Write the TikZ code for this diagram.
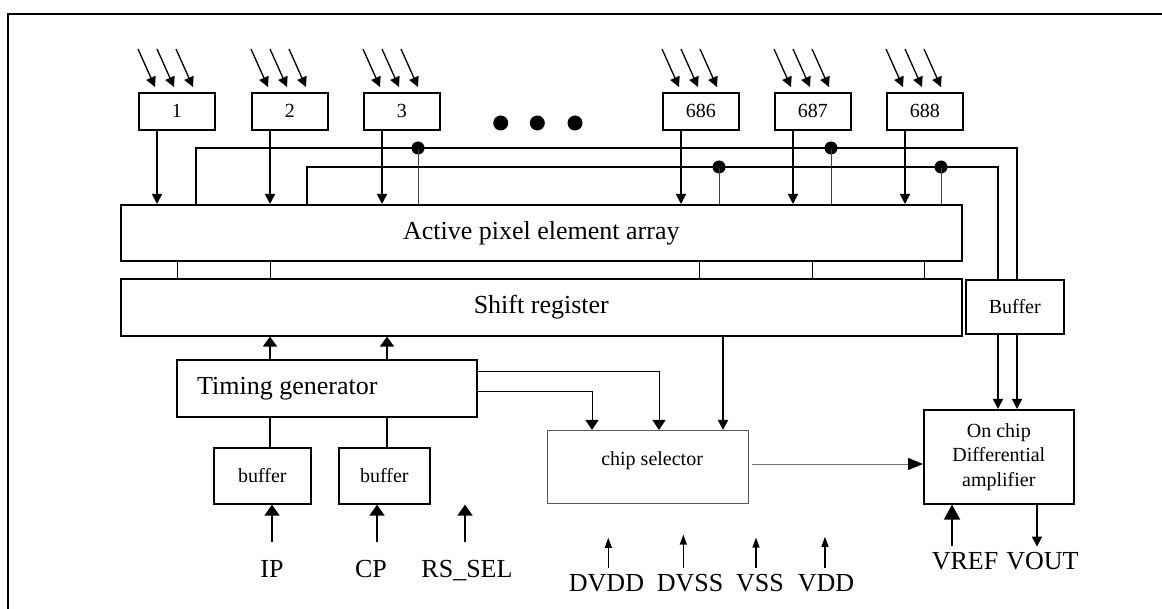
\documentclass[tikz,border=0pt]{standalone}
\usepackage{fontspec}
\setmainfont{Liberation Serif}
\usetikzlibrary{arrows.meta}
\tikzset{
  txtbig/.style={font=\fontsize{26}{30}\selectfont},
  txtsmall/.style={font=\fontsize{20}{24.5}\selectfont},
  blk/.style={draw, line width=1.6pt, inner sep=0pt, anchor=north west},
  lab/.style={inner sep=0pt, txtbig},
  ray/.style={line width=1.3pt, -{Triangle[length=10pt,width=10pt]}},
  feed/.style={line width=1.6pt, -{Triangle[length=10pt,width=10pt]}},
  uparr/.style={line width=1.6pt, -{Triangle[length=10pt,width=14pt]}},
  inp/.style={line width=1.6pt, -{Triangle[length=11pt,width=15pt]}},
  vrarr/.style={line width=1.6pt, -{Triangle[length=15pt,width=16pt]}},
  pwr/.style={line width=1.2pt, -{Triangle[length=10pt,width=7pt]}},
  tcarr/.style={line width=1pt, -{Triangle[length=10pt,width=13pt]}},
  selout/.style={draw=black!55, line width=1pt, -{Triangle[length=15pt,width=12pt,color=black]}},
  wthin/.style={line width=1.1pt},
  wthick/.style={line width=1.8pt},
  stem/.style={draw=black!75, line width=0.9pt},
  link/.style={line width=0.9pt},
  jn/.style={circle, fill, inner sep=0pt, minimum size=13pt},
  ell/.style={circle, fill, inner sep=0pt, minimum size=15pt}
}
\begin{document}
\begin{tikzpicture}[x=1pt,y=-1pt]
\useasboundingbox (0,0) rectangle (1162,609);
% outer frame
\draw[line width=1.4pt] (8,620) -- (8,14) -- (1175,14);

% photodiode cells with incoming light
\foreach \n/\x in {1/138,2/251,3/363,686/662,687/774,688/886}{
  \node[blk, txtsmall, minimum width=76pt, minimum height=37pt] (p\n) at (\x,92) {\n};
  \foreach \d in {0,19,38}
    \draw[ray] ([xshift=\d pt,yshift=43pt]p\n.north west) -- ++(17,38);
}
\foreach \i/\x in {1/500.7,2/537.3,3/575}
  \node[ell] (dot\i) at (\x,123) {};

% pixel array and shift register
\node[blk, txtbig, minimum width=841pt, minimum height=56pt] (pa) at (120,204) {Active pixel element array};
\node[blk, txtbig, minimum width=841pt, minimum height=57pt] (sr) at (120,278) {Shift register};
\foreach \x in {177,270,699,812,924}
  \draw[link] (\x,0 |- pa.south) -- (\x,0 |- sr.north);

\foreach \n in {1,2,3,686,687,688}{
  \coordinate (o\n) at ([xshift=19pt]p\n.south west);
  \draw[feed] (o\n) -- (o\n |- pa.north);
}

% output buffer and bus lines
\node[blk, txtsmall, minimum width=98pt, minimum height=54pt] (bf) at (965,279) {Buffer};
\coordinate (a1) at (196,148); \coordinate (a2) at (1017,148);
\coordinate (b1) at (307,167); \coordinate (b2) at (998,167);
\foreach \x in {418,831}{
  \node[jn] (ja\x) at (\x,148) {};
  \draw[stem] (ja\x.center) -- (ja\x.center |- pa.north);
}
\foreach \x in {719,941}{
  \node[jn] (jb\x) at (\x,167) {};
  \draw[stem] (jb\x.center) -- (jb\x.center |- pa.north);
}
\draw[wthin] (a1 |- pa.north) -- (a1) -- (a2) -- (a2 |- bf.north);
\draw[wthick] (b1 |- pa.north) -- (b1) -- (b2) -- (b2 |- bf.north);

% differential amplifier
\node[blk, txtsmall, align=center, minimum width=150pt, minimum height=94pt] (amp) at (923,409) {On chip\\Differential\\amplifier};
\draw[feed] (a2 |- bf.south) -- (a2 |- amp.north);
\draw[feed] (b2 |- bf.south) -- (b2 |- amp.north);

% timing generator and input buffers
\node[blk, minimum width=300pt, minimum height=57pt] (tg) at (176,359) {};
\node[lab, anchor=west] (tgl) at ([xshift=21pt]tg.west) {Timing generator};
\foreach \x in {270,387}
  \draw[uparr] (\x,0 |- tg.north) -- (\x,0 |- sr.south);
\node[blk, txtsmall, minimum width=97pt, minimum height=56pt] (u1) at (213,447) {buffer};
\node[blk, txtsmall, minimum width=91pt, minimum height=56pt] (u2) at (338,447) {buffer};
\draw[line width=1.6pt] (270,0 |- tg.south) -- (270,0 |- u1.north);
\draw[line width=1.6pt] (387,0 |- tg.south) -- (387,0 |- u2.north);

\node[lab, anchor=base] (ip) at (272,577) {IP};
\node[lab, anchor=base] (cp) at (371,577) {CP};
\node[lab, anchor=base] (rs) at (467,577) {RS\_SEL};
\draw[inp] ([yshift=18pt]ip.north) -- (ip.north |- u1.south);
\draw[inp] ([xshift=6pt,yshift=18pt]cp.north) -- ([xshift=6pt]cp.north |- u2.south);
\draw[inp] ([xshift=-2pt,yshift=18pt]rs.north) -- ([xshift=-2pt]rs.north |- u1.south);

% chip selector
\node[blk, draw=black!65, line width=1.2pt, minimum width=201pt, minimum height=73pt] (cs) at (547,430) {};
\node[inner sep=0pt, txtsmall] (csl) at ([xshift=4pt,yshift=6.5pt]cs.center) {chip selector};
\draw[tcarr] (tg.east |- 0,372) -| (659,0 |- cs.north);
\draw[tcarr] (tg.east |- 0,392) -| (592,0 |- cs.north);
\draw[feed] (723,0 |- sr.south) -- (723,0 |- cs.north);
\draw[selout] ([xshift=3pt]cs.east |- 0,464) -- (amp.west |- 0,464);

% supply pins
\foreach \nm/\t/\cx/\ax/\len in {dvdd/DVDD/606.5/608.3/30, dvss/DVSS/690/683.3/33, vss/VSS/760/756/30, vdd/VDD/826/825/31}{
  \node[lab, anchor=base] (\nm) at (\cx,591) {\t};
  \draw[pwr] (\ax,0 |- \nm.north) ++(0,-6) -- ++(0,-\len);
}

% amplifier pins
\node[lab, anchor=base] (vref) at (965,569) {VREF};
\node[lab, anchor=base] (vout) at (1042.5,569) {VOUT};
\draw[vrarr] ([xshift=-13pt,yshift=6pt]vref.north) -- ([xshift=-13pt]vref.north |- amp.south);
\draw[feed] ([xshift=-5.5pt]vout.north |- amp.south) -- ([xshift=-5.5pt,yshift=5pt]vout.north);
\end{tikzpicture}
\end{document}
